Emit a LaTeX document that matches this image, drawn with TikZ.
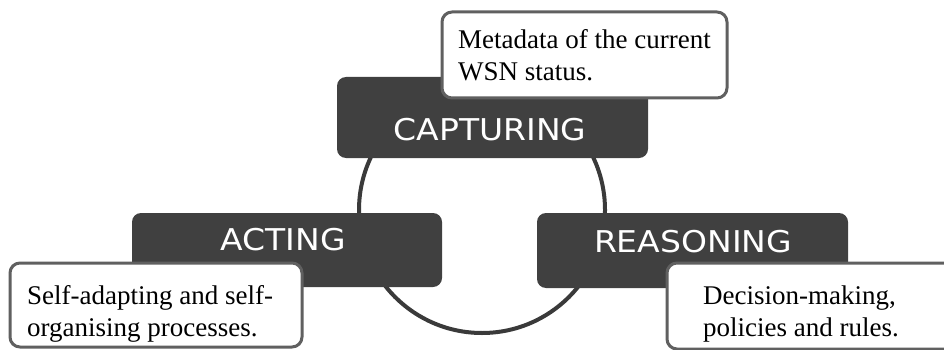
\documentclass[tikz,border=0pt]{standalone}
\usepackage{fontspec}
\setmainfont{Liberation Serif}
\newfontfamily\labelsans{DejaVu Sans}
\definecolor{boxdark}{HTML}{404040}
\definecolor{ringline}{HTML}{3A3A3A}
\definecolor{noteedge}{HTML}{606060}
\tikzset{
  stagebox/.style={fill=boxdark, rounded corners=9pt, inner sep=0pt},
  stagetitle/.style={text=white, font=\labelsans\fontsize{30}{36}\selectfont, inner sep=0pt},
  notebox/.style={fill=white, draw=noteedge, line width=3pt, rounded corners=10pt, inner sep=0pt},
  notetext/.style={font=\fontsize{27}{32}\selectfont, align=left, inner sep=0pt, text=black},
}
\begin{document}
\begin{tikzpicture}[x=1pt, y=-1pt]
  \useasboundingbox (0,0) rectangle (944,350);
  \clip (0,0) rectangle (944,350);
  \fill[white] (0,0) rectangle (944,350);

  % the loop joining the three stages
  \node[draw=ringline, line width=4pt, circle, minimum size=246pt, inner sep=0pt] (loop) at (482,210) {};

  % stage boxes
  \node[stagebox, minimum width=311pt, minimum height=81pt] (capbox) at (492.5,117.5) {};
  \node[stagebox, minimum width=310pt, minimum height=74pt] (actbox) at (287,250) {};
  \node[stagebox, minimum width=311pt, minimum height=75pt] (reabox) at (692.5,250.5) {};

  \node[stagetitle, anchor=base] (captitle) at (490,140) {\scalebox{1.1}[1]{CAPTURING}};
  \node[stagetitle, anchor=base] (acttitle) at (283,250) {\scalebox{1.1}[1]{ACTING}};
  \node[stagetitle, anchor=base] (reatitle) at (693,252) {\scalebox{1.1}[1]{REASONING}};

  % note boxes
  \node[notebox, minimum width=285pt, minimum height=86pt] (capnote) at (584.5,55) {};
  \node[notebox, minimum width=292pt, minimum height=84pt] (actnote) at (156,305) {};
  \node[notebox, minimum width=300pt, minimum height=86pt] (reanote) at (817,306) {};

  % multi-line texts: the base anchor sits on the last line
  \node[notetext, anchor=base west] (captext) at (458,81) {Metadata of the current\\WSN status.};
  \node[notetext, anchor=base west] (acttext) at (27,336) {Self-adapting and self-\\organising processes.};
  \node[notetext, anchor=base west] (reatext) at (703,336) {Decision-making,\\policies and rules.};
\end{tikzpicture}
\end{document}
